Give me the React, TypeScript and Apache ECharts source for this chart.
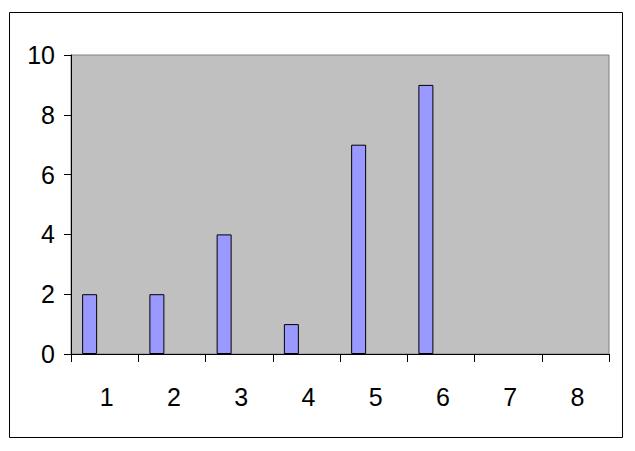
import React, { useEffect, useRef } from "react";
import * as echarts from "echarts";

const categories = ["1", "2", "3", "4", "5", "6", "7", "8"];
const values: (number | string)[] = [2, 2, 4, 1, 7, 9, "-", "-"];
const emptySeries: (number | string)[] = ["-", "-", "-", "-", "-", "-", "-", "-"];
const yTicks = { min: 0, max: 10, interval: 2 };

export default function App() {
  const ref = useRef<HTMLDivElement>(null);
  useEffect(() => {
    if (!ref.current) return;
    const chart = echarts.init(ref.current, null, { renderer: "svg" });
    const font = "Arial";
    chart.setOption({
      animation: false,
      backgroundColor: "#ffffff",
      textStyle: { fontFamily: font, fontSize: 25 },
      graphic: [
        {
          type: "rect",
          shape: { x: 9.5, y: 12.5, width: 613, height: 425 },
          style: { fill: "none", stroke: "#000000", lineWidth: 1 },
          z: 0,
        },
      ],
      grid: {
        left: 71,
        top: 55,
        right: 635 - 609,
        bottom: 451 - 354,
        show: true,
        backgroundColor: "#C0C0C0",
        borderColor: "#808080",
        borderWidth: 1,
      },
      xAxis: {
        type: "category",
        data: categories,
        boundaryGap: true,
        axisLine: { show: true, lineStyle: { color: "#000000", width: 1 } },
        axisTick: { show: true, length: 8, alignWithLabel: false, lineStyle: { color: "#000000" } },
        axisLabel: { color: "#000000", fontSize: 25, fontFamily: font, margin: 30, padding: [0, 0, 0, 4] },
        splitLine: { show: false },
      },
      yAxis: {
        type: "value",
        min: yTicks.min,
        max: yTicks.max,
        interval: yTicks.interval,
        axisLine: { show: true, lineStyle: { color: "#000000", width: 1 } },
        axisTick: { show: true, length: 7, lineStyle: { color: "#000000" } },
        axisLabel: { color: "#000000", fontSize: 25, fontFamily: font, margin: 16 },
        splitLine: { show: false },
      },
      series: [
        {
          type: "bar",
          data: values,
          barWidth: 15,
          barGap: "0%",
          itemStyle: { color: "#9999FF", borderColor: "#000000", borderWidth: 1 },
        },
        { type: "bar", data: emptySeries, barWidth: 15, barGap: "0%" },
        { type: "bar", data: emptySeries, barWidth: 15, barGap: "0%" },
      ],
    });
    return () => chart.dispose();
  }, []);
  return (
    <div
      ref={ref}
      style={{ position: "absolute", left: 0, top: 0, width: 635, height: 451 }}
    />
  );
}
